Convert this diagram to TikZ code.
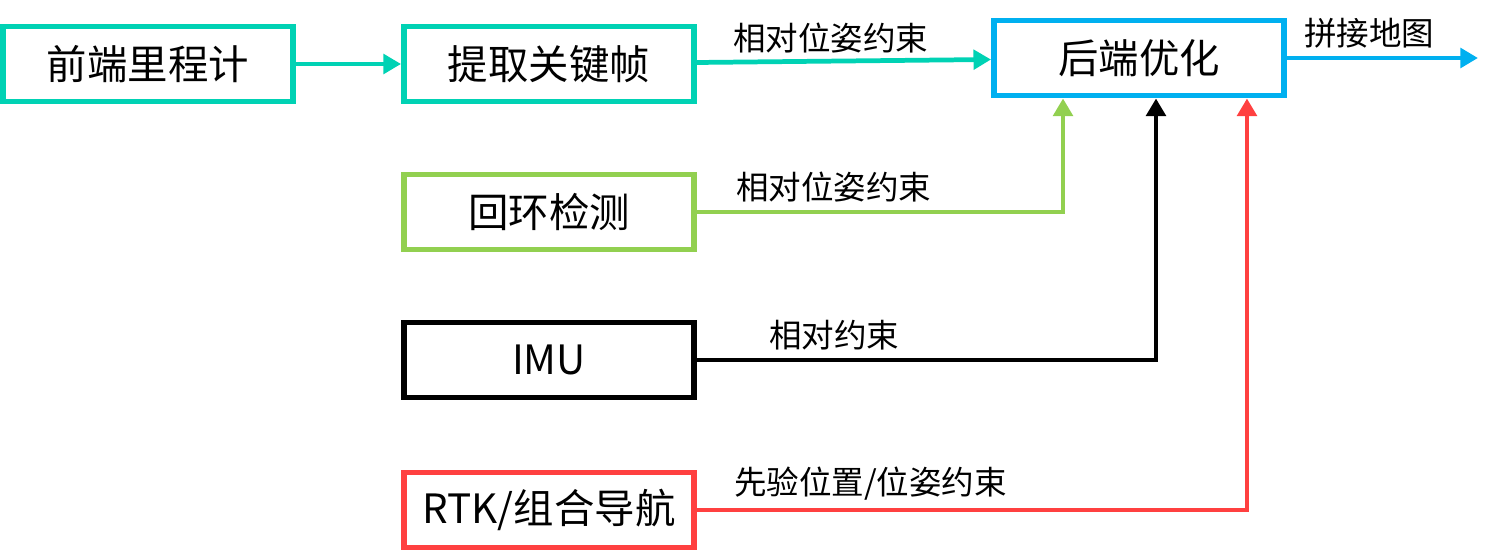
\documentclass[tikz,border=0pt]{standalone}
\usepackage{fontspec}
\setmainfont{Noto Sans CJK SC}
\usetikzlibrary{positioning,arrows.meta}
\definecolor{kfteal}{RGB}{0,210,180}
\definecolor{beblue}{RGB}{0,176,240}
\definecolor{lpgreen}{RGB}{146,208,80}
\definecolor{rtkred}{RGB}{255,64,64}
\tikzset{%
  >={Triangle[length=10pt,width=11pt]},
  blk/.style={draw,rectangle,line width=3.4pt,minimum width=5.8cm,minimum height=1.5cm,fill=white,font=\fontsize{23}{27}\selectfont},
  link/.style={line width=2.7pt,->},
  lbl/.style={font=\fontsize{18.5}{22}\selectfont,inner sep=1pt,text=black,anchor=south west}
}
\begin{document}
\begin{tikzpicture}[x=0.02cm,y=-0.02cm]
	\useasboundingbox (0,0) rectangle (1495,560);
	\node[blk,draw=kfteal] (odo) at (148,64) {前端里程计};
	\node[blk,draw=kfteal] (kf) at (549,64) {提取关键帧};
	\node[blk,draw=beblue] (back) at (1139,58) {后端优化};
	\node[blk,draw=lpgreen] (loop) at (549,212) {回环检测};
	\node[blk] (imu) at (549,360) {IMU};
	\node[blk,draw=rtkred] (rtk) at (549,510) {RTK/组合导航};
	\coordinate (map) at (1478,58);
	
	\draw[link,kfteal] (odo) -- (kf);
	\draw[link,kfteal] (kf) -- node[lbl,pos=0.11,yshift=3pt] {相对位姿约束} (back);
	\draw[link,beblue] (back) -- node[lbl,pos=0.07,yshift=3pt] {拼接地图} (map);
	
	% constraints into the back end
	\draw[link,lpgreen] (loop.east) -| node[lbl,pos=0.048,yshift=3pt] {相对位姿约束} ([xshift=-1.52cm]back.south);
	\draw[link,black] (imu.east) -| node[lbl,pos=0.074,yshift=3pt] {相对约束} ([xshift=0.34cm]back.south);
	\draw[link,rtkred] (rtk.east) -| node[lbl,pos=0.03,yshift=3pt] {先验位置/位姿约束} ([xshift=2.16cm]back.south);
\end{tikzpicture}
\end{document}
